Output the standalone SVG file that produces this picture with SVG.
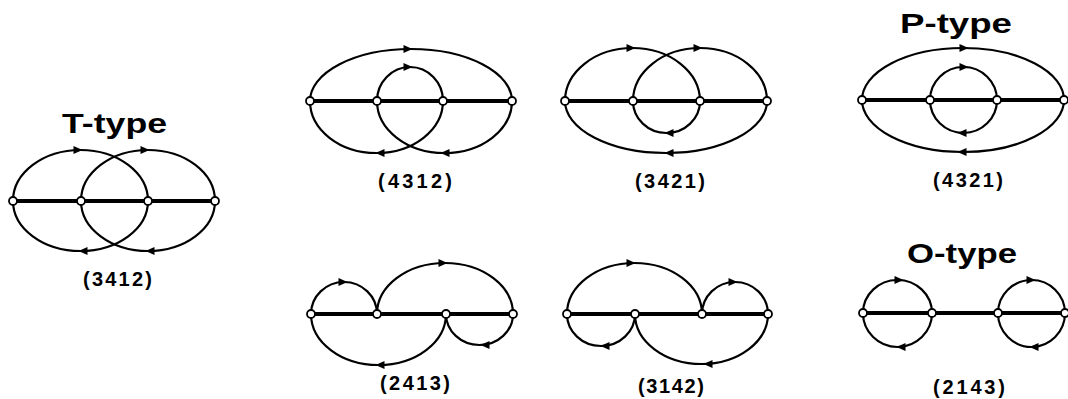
<svg xmlns="http://www.w3.org/2000/svg" xmlns:xlink="http://www.w3.org/1999/xlink" width="1068" height="399" viewBox="0 0 1068 399">
<style>
.arc{fill:none;stroke:#000;stroke-width:2.2}
.axis{fill:none;stroke:#000;stroke-width:4}
.nd{fill:#fff;stroke:#000;stroke-width:1.8}
.ttl{font-family:"Liberation Sans",Arial,sans-serif;font-weight:bold;font-size:28px;fill:#000}
.lbl{font-family:"Liberation Sans",Arial,sans-serif;font-weight:bold;font-size:20px;fill:#000}
.ah{fill:#000}
</style>
<defs>
<path id="ar" d="M4.5,0 L-4.5,-4 L-4.5,4 Z"/>
</defs>
<rect width="1068" height="399" fill="#fff"/>

<!-- T-type (3412) -->
<g id="t3412">
<text class="ttl" x="62" y="133" textLength="105" lengthAdjust="spacingAndGlyphs">T-type</text>
<g class="connectors">
<line class="axis" x1="13" y1="201" x2="215" y2="201"/>
<path class="arc" d="M13,201 A67.5,51 0 0 1 148,201"/>
<path class="arc" d="M81,201 A67,51 0 0 1 215,201"/>
<path class="arc" d="M13,201 A67.5,50 0 0 0 148,201"/>
<path class="arc" d="M81,201 A67,50 0 0 0 215,201"/>
<use xlink:href="#ar" class="ah" transform="translate(78,150)"/>
<use xlink:href="#ar" class="ah" transform="translate(145,150)"/>
<use xlink:href="#ar" class="ah" transform="translate(83,251) rotate(180)"/>
<use xlink:href="#ar" class="ah" transform="translate(150,251) rotate(180)"/>
</g>
<circle class="nd" cx="13" cy="201" r="4"/><circle class="nd" cx="81" cy="201" r="4"/><circle class="nd" cx="148" cy="201" r="4"/><circle class="nd" cx="215" cy="201" r="4"/>
<text class="lbl" x="83" y="286" textLength="69" lengthAdjust="spacing">(3412)</text>
</g>

<!-- (4312) -->
<g id="d4312">
<g class="connectors">
<line class="axis" x1="310" y1="101" x2="512" y2="101"/>
<path class="arc" d="M310,101 A101,52 0 0 1 512,101"/>
<path class="arc" d="M377,101 A33,34 0 0 1 443,101"/>
<path class="arc" d="M310,101 A66.5,52 0 0 0 443,101"/>
<path class="arc" d="M377,101 A67.5,52 0 0 0 512,101"/>
<use xlink:href="#ar" class="ah" transform="translate(408,49)"/>
<use xlink:href="#ar" class="ah" transform="translate(408,67)"/>
<use xlink:href="#ar" class="ah" transform="translate(380,153) rotate(180)"/>
<use xlink:href="#ar" class="ah" transform="translate(445,153) rotate(180)"/>
</g>
<circle class="nd" cx="310" cy="101" r="4"/><circle class="nd" cx="377" cy="101" r="4"/><circle class="nd" cx="443" cy="101" r="4"/><circle class="nd" cx="512" cy="101" r="4"/>
<text class="lbl" x="378" y="188" textLength="74" lengthAdjust="spacing">(4312)</text>
</g>

<!-- (3421) -->
<g id="d3421">
<g class="connectors">
<line class="axis" x1="565" y1="101" x2="767" y2="101"/>
<path class="arc" d="M565,101 A67.5,53 0 0 1 700,101"/>
<path class="arc" d="M633,101 A67,53 0 0 1 767,101"/>
<path class="arc" d="M633,101 A33.5,32 0 0 0 700,101"/>
<path class="arc" d="M565,101 A101,52 0 0 0 767,101"/>
<use xlink:href="#ar" class="ah" transform="translate(631,48)"/>
<use xlink:href="#ar" class="ah" transform="translate(698,48)"/>
<use xlink:href="#ar" class="ah" transform="translate(669,133) rotate(180)"/>
<use xlink:href="#ar" class="ah" transform="translate(669,153) rotate(180)"/>
</g>
<circle class="nd" cx="565" cy="101" r="4"/><circle class="nd" cx="633" cy="101" r="4"/><circle class="nd" cx="700" cy="101" r="4"/><circle class="nd" cx="767" cy="101" r="4"/>
<text class="lbl" x="635" y="188" textLength="70" lengthAdjust="spacing">(3421)</text>
</g>

<!-- P-type (4321) -->
<g id="p4321">
<text class="ttl" x="900" y="33" textLength="112" lengthAdjust="spacingAndGlyphs">P-type</text>
<g class="connectors">
<line class="axis" x1="862" y1="100" x2="1064" y2="100"/>
<path class="arc" d="M862,100 A101,52 0 0 1 1064,100"/>
<path class="arc" d="M930,100 A33.5,33 0 0 1 997,100"/>
<path class="arc" d="M930,100 A33.5,33 0 0 0 997,100"/>
<path class="arc" d="M862,100 A101,52 0 0 0 1064,100"/>
<use xlink:href="#ar" class="ah" transform="translate(964,48)"/>
<use xlink:href="#ar" class="ah" transform="translate(964,67)"/>
<use xlink:href="#ar" class="ah" transform="translate(962,133) rotate(180)"/>
<use xlink:href="#ar" class="ah" transform="translate(962,152) rotate(180)"/>
</g>
<circle class="nd" cx="862" cy="100" r="4"/><circle class="nd" cx="930" cy="100" r="4"/><circle class="nd" cx="997" cy="100" r="4"/><circle class="nd" cx="1064" cy="100" r="4"/>
<text class="lbl" x="933" y="187" textLength="70" lengthAdjust="spacing">(4321)</text>
</g>

<!-- (2413) -->
<g id="d2413">
<g class="connectors">
<line class="axis" x1="311" y1="314" x2="513" y2="314"/>
<path class="arc" d="M311,314 A33,32 0 0 1 377,314"/>
<path class="arc" d="M377,314 A68,51 0 0 1 513,314"/>
<path class="arc" d="M311,314 A67.5,51 0 0 0 446,314"/>
<path class="arc" d="M446,314 A33.5,31 0 0 0 513,314"/>
<use xlink:href="#ar" class="ah" transform="translate(343,282)"/>
<use xlink:href="#ar" class="ah" transform="translate(443,263)"/>
<use xlink:href="#ar" class="ah" transform="translate(380,365) rotate(180)"/>
<use xlink:href="#ar" class="ah" transform="translate(485,345) rotate(180)"/>
</g>
<circle class="nd" cx="311" cy="314" r="4"/><circle class="nd" cx="377" cy="314" r="4"/><circle class="nd" cx="446" cy="314" r="4"/><circle class="nd" cx="513" cy="314" r="4"/>
<text class="lbl" x="380" y="390" textLength="70" lengthAdjust="spacing">(2413)</text>
</g>

<!-- (3142) -->
<g id="d3142">
<g class="connectors">
<line class="axis" x1="567" y1="314" x2="768" y2="314"/>
<path class="arc" d="M567,314 A67.5,51 0 0 1 702,314"/>
<path class="arc" d="M702,314 A33,32 0 0 1 768,314"/>
<path class="arc" d="M567,314 A34,32 0 0 0 635,314"/>
<path class="arc" d="M635,314 A66.5,50 0 0 0 768,314"/>
<use xlink:href="#ar" class="ah" transform="translate(631,263)"/>
<use xlink:href="#ar" class="ah" transform="translate(733,282)"/>
<use xlink:href="#ar" class="ah" transform="translate(605,346) rotate(180)"/>
<use xlink:href="#ar" class="ah" transform="translate(708,364) rotate(180)"/>
</g>
<circle class="nd" cx="567" cy="314" r="4"/><circle class="nd" cx="635" cy="314" r="4"/><circle class="nd" cx="702" cy="314" r="4"/><circle class="nd" cx="768" cy="314" r="4"/>
<text class="lbl" x="638" y="393" textLength="66" lengthAdjust="spacing">(3142)</text>
</g>

<!-- O-type (2143) -->
<g id="o2143">
<text class="ttl" x="907" y="263" textLength="110" lengthAdjust="spacingAndGlyphs">O-type</text>
<g class="connectors">
<line class="axis" x1="863" y1="313" x2="1065" y2="313"/>
<path class="arc" d="M863,313 A34.5,33 0 0 1 932,313"/>
<path class="arc" d="M863,313 A34.5,34 0 0 0 932,313"/>
<path class="arc" d="M998,313 A33.5,33 0 0 1 1065,313"/>
<path class="arc" d="M998,313 A33.5,34 0 0 0 1065,313"/>
<use xlink:href="#ar" class="ah" transform="translate(899,280)"/>
<use xlink:href="#ar" class="ah" transform="translate(901,347) rotate(180)"/>
<use xlink:href="#ar" class="ah" transform="translate(1031,280)"/>
<use xlink:href="#ar" class="ah" transform="translate(1034,347) rotate(180)"/>
</g>
<circle class="nd" cx="863" cy="313" r="4"/><circle class="nd" cx="932" cy="313" r="4"/><circle class="nd" cx="998" cy="313" r="4"/><circle class="nd" cx="1065" cy="313" r="4"/>
<text class="lbl" x="933" y="394" textLength="72" lengthAdjust="spacing">(2143)</text>
</g>
</svg>
